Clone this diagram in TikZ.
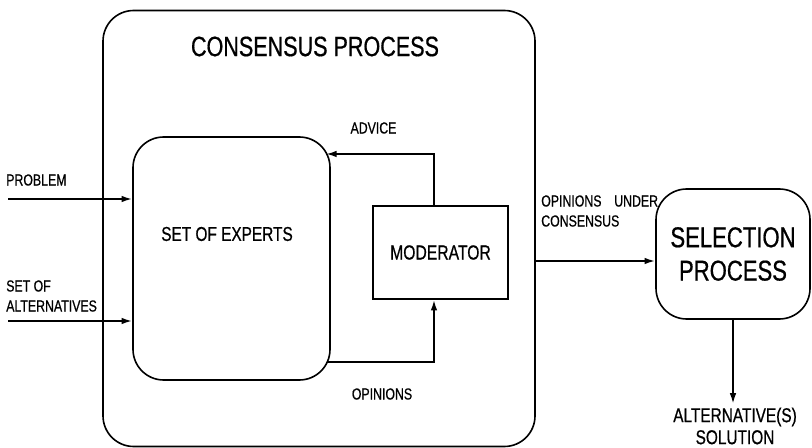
\documentclass[tikz,border=0pt]{standalone}
\usepackage{fontspec}
\setmainfont{Liberation Sans}[FakeStretch=0.77, FakeBold=0.6]
\usetikzlibrary{arrows.meta}

\begin{document}
\begin{tikzpicture}[x=0.75pt, y=-0.75pt,
		box/.style={draw, line width=1.2pt, rounded corners=23pt, inner sep=0pt},
		plainbox/.style={draw, line width=1.2pt, inner sep=0pt},
		arr/.style={line width=1.4pt, -{Latex[length=8pt,width=5pt]}},
		small/.style={font=\fontsize{12}{15}\selectfont, inner sep=0pt}]
		
		\useasboundingbox (0,0) rectangle (812,448);
		
		% consensus process frame
		\node[box, minimum width=324pt, minimum height=327pt] (cons) at (319,228.5) {};
		\node[font=\fontsize{21}{25}\selectfont] (constitle) at (315,46.5) {CONSENSUS PROCESS};
		
		% experts and moderator
		\node[box, minimum width=147.75pt, minimum height=182.25pt] (experts) at (231.5,258.5) {};
		\node[font=\fontsize{15}{18}\selectfont] (expertstext) at (227,234) {SET OF EXPERTS};
		\node[plainbox, minimum width=101.25pt, minimum height=69.75pt,
		font=\fontsize{15.3}{18}\selectfont] (moderator) at (440.5,252.5) {MODERATOR};
		
		% selection process
		\node[box, minimum width=115.5pt, minimum height=97.5pt, align=center,
		font=\fontsize{21.5}{25}\selectfont] (select) at (733,254) {SELECTION\\PROCESS};
		
		% inputs
		\coordinate (probin) at (8,199);
		\coordinate (altin) at (8,321);
		\draw[arr] (probin) -- (probin -| experts.west);
		\draw[arr] (altin) -- (altin -| experts.west);
		\node[small, anchor=west] (problem) at (6,180) {PROBLEM};
		\node[small, anchor=west, align=left] (alternatives) at (6,296) {SET OF\\ALTERNATIVES};
		
		% feedback loop
		\coordinate (advend) at (326,154);
		\coordinate (opstart) at (327,362);
		\coordinate (loopx) at (434,0);
		\draw[arr] (moderator.north -| loopx) |- (advend);
		\draw[arr] (opstart) -| (moderator.south -| loopx);
		\node[small] (advice) at (373.5,128) {ADVICE};
		\node[small] (opinions) at (382,394) {OPINIONS};
		
		% output of consensus
		\coordinate (outy) at (0,261);
		\draw[arr] (cons.east |- outy) -- (select.west |- outy);
		\node[small, anchor=west, align=left] (undercons) at (541,211) {OPINIONS\hspace{7pt} UNDER\\CONSENSUS};
		
		% solution
		\draw[arr] (select.south) -- ++(0,84) coordinate (solend);
		\node[align=center, font=\fontsize{15}{16.5}\selectfont] (solution) at (735,426) {ALTERNATIVE(S)\\SOLUTION};
		
	\end{tikzpicture}
\end{document}
